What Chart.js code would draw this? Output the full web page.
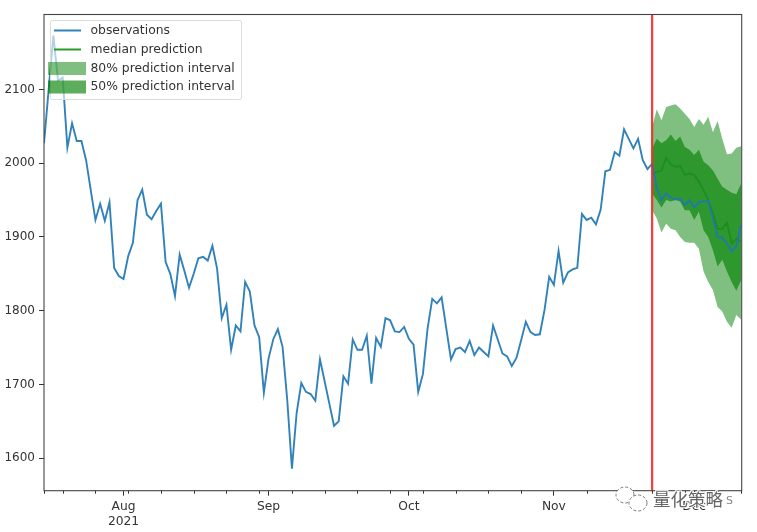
<!DOCTYPE html>
<html>
<head>
<meta charset="utf-8">
<script src="https://cdn.jsdelivr.net/npm/chart.js@4"></script>
<style>
  html, body { margin: 0; padding: 0; background: #fff; }
  #wrap { width: 757px; height: 532px; }
  canvas { filter: blur(0.55px); }
</style>
</head>
<body>
<div id="wrap"><canvas id="grafica" width="757" height="532"></canvas></div>
<script>
// ========== DATOS ===================
// x values are days since 15 Jul 2021
const observations = [
  2027, 2100, 2173, 2112, 2116, 2021, 2054, 2030, 2030, 2004,
  1963, 1923, 1945, 1922, 1947, 1858, 1847, 1843, 1874, 1892,
  1950, 1964, 1930, 1924, 1935, 1945, 1866, 1850, 1820, 1876,
  1854, 1831, 1850, 1871, 1873, 1868, 1888, 1857, 1790, 1808,
  1747, 1780, 1772, 1839, 1826, 1780, 1764, 1689, 1735, 1761,
  1775, 1751, 1679, 1586, 1661, 1702, 1690, 1687, 1678, 1734,
  1704, 1674, 1644, 1650, 1711, 1701, 1761, 1747, 1747, 1766,
  1701, 1763, 1751, 1790, 1787, 1772, 1771, 1778, 1762, 1754,
  1690, 1714, 1776, 1816, 1810, 1818, 1776, 1734, 1748, 1750,
  1744, 1759, 1740, 1750, 1744, 1738, 1780, 1761, 1742, 1738,
  1725, 1736, 1760, 1785, 1771, 1767, 1768, 1801, 1846, 1835,
  1881, 1838, 1852, 1856, 1858, 1931, 1923, 1926, 1917, 1937,
  1989, 1991, 2015, 2010, 2046, 2033, 2020, 2033, 2004, 1992,
  1999, 1966, 1950, 1959, 1953, 1951, 1952, 1943, 1950, 1940,
  1947, 1948, 1949, 1925, 1900, 1899, 1891, 1881, 1887, 1916
];
const predictionStart = 130;
const medianPrediction = [
  1986, 1988, 1990, 2007, 1998, 1995, 1996, 1984, 1986, 1984,
  1975, 1963, 1950, 1932, 1911, 1911, 1919, 1891, 1897, 1894
];
const upper50 = [
  2020, 2033, 2027, 2031, 2039, 2030, 2036, 2022, 2018, 2011,
  2018, 2002, 1997, 1990, 1979, 1968, 1964, 1960, 1958, 1972
];
const lower50 = [
  1959, 1950, 1940, 1950, 1948, 1950, 1948, 1936, 1936, 1923,
  1934, 1909, 1900, 1882, 1860, 1869, 1853, 1839, 1827, 1841
];
const upper80 = [
  2049, 2073, 2058, 2076, 2078, 2080, 2074, 2067, 2060, 2049,
  2060, 2052, 2063, 2042, 2057, 2033, 2012, 2013, 2021, 2023
];
const lower80 = [
  1936, 1925, 1906, 1918, 1911, 1909, 1900, 1893, 1892, 1892,
  1884, 1853, 1839, 1828, 1805, 1799, 1785, 1777, 1794, 1788
];
const yTicks = [1600, 1700, 1800, 1900, 2000, 2100];
const monthDays = [17, 48, 78, 109, 139];
const monthLabels = [["Aug", "2021"], "Sep", "Oct", "Nov", "Dec"];
const weekDays = [0, 4, 11, 18, 25, 32, 39, 46, 53, 60, 67, 74, 81, 88, 95, 102, 116, 123, 130, 137, 144, 149];
const legendNames = ["observations", "median prediction", "80% prediction interval", "50% prediction interval"];
const xMin = 0, xMax = 149.15, yMin = 1556, yMax = 2201.5;

const BLUE = "rgba(31,119,180,0.92)";
const GREEN_LINE = "#1b8f1b";
const GREEN_80 = "rgba(0,128,0,0.5)";
const GREEN_50 = "rgba(0,128,0,0.64)";
const INK = "#333";

// -------------- UTILS ----------------
function serie(vals, start){ return vals.map((v, i) => ({ x: start + i, y: v })); }
function zona(label, vals, color, order, fill){
  return { label, data: serie(vals, predictionStart), borderWidth: 0, pointRadius: 0,
           backgroundColor: color, fill: fill === undefined ? false : fill, order, tension: 0 };
}

// ========== PLUGINS =============
const marco = {
  id: "marco",
  afterDatasetsDraw(chart){
    const { ctx, chartArea: a, scales: { x } } = chart;
    ctx.save();
    // minor week ticks
    ctx.strokeStyle = INK;
    ctx.lineWidth = 1;
    weekDays.forEach(d => {
      const px = Math.round(x.getPixelForValue(d)) + 0.5;
      ctx.beginPath(); ctx.moveTo(px, a.bottom); ctx.lineTo(px, a.bottom + 3); ctx.stroke();
    });
    // spines
    ctx.strokeStyle = "#444";
    ctx.lineWidth = 1.1;
    ctx.strokeRect(a.left, a.top, a.right - a.left, a.bottom - a.top);
    ctx.restore();
  }
};

const leyenda = {
  id: "leyenda",
  afterDatasetsDraw(chart){
    const { ctx } = chart;
    ctx.save();
    ctx.fillStyle = "rgba(255,255,255,0.62)";
    ctx.strokeStyle = "#dcdcdc";
    ctx.lineWidth = 1;
    ctx.beginPath();
    ctx.roundRect(50.5, 20.5, 191, 79, 2);
    ctx.fill(); ctx.stroke();

    const filas = [30.5, 49.5, 68.5, 87];
    ctx.lineWidth = 2;
    ctx.strokeStyle = BLUE;
    ctx.beginPath(); ctx.moveTo(54, filas[0]); ctx.lineTo(81, filas[0]); ctx.stroke();
    ctx.strokeStyle = "#2a9a2a";
    ctx.beginPath(); ctx.moveTo(54, filas[1]); ctx.lineTo(81, filas[1]); ctx.stroke();
    ctx.fillStyle = GREEN_80;
    ctx.fillRect(48, filas[2] - 6.5, 38, 13);
    ctx.fillStyle = GREEN_50;
    ctx.fillRect(48, filas[3] - 6.5, 38, 13);

    ctx.fillStyle = INK;
    ctx.font = "12.35px 'DejaVu Sans'";
    ctx.textBaseline = "middle";
    legendNames.forEach((t, i) => ctx.fillText(t, 90.5, filas[i]));
    ctx.restore();
  }
};

// watermark sitting over the axis labels
const marcaAgua = {
  id: "marcaAgua",
  afterDraw(chart){
    const { ctx } = chart;
    ctx.save();
    ctx.strokeStyle = "#777";
    ctx.fillStyle = "#fff";
    ctx.lineWidth = 1;
    ctx.setLineDash([3, 2]);
    ctx.beginPath(); ctx.ellipse(625, 495, 9, 8, 0, 0, Math.PI * 2); ctx.fill(); ctx.stroke();
    ctx.beginPath(); ctx.ellipse(638, 503, 9, 8, 0, 0, Math.PI * 2); ctx.fill(); ctx.stroke();
    ctx.setLineDash([]);
    ctx.font = "17.5px 'Noto Sans CJK SC'";
    ctx.textBaseline = "middle";
    ctx.lineWidth = 2;
    ctx.strokeStyle = "#fff";
    ctx.strokeText("量化策略", 653, 499);
    ctx.fillStyle = "#666";
    ctx.fillText("量化策略", 653, 499);
    ctx.font = "11px 'DejaVu Sans'";
    ctx.fillStyle = "#888";
    ctx.fillText("S", 726, 501);
    ctx.restore();
  }
};

// ========== GRAFICA ==========
function graficar(){
  new Chart(document.getElementById("grafica"), {
    type: "line",
    data: {
      datasets: [
        { label: "prediction start", data: [{ x: predictionStart, y: yMin }, { x: predictionStart, y: yMax }],
          borderColor: "rgba(245,40,40,0.9)", borderWidth: 2.2, pointRadius: 0, order: 1 },
        { label: legendNames[0], data: serie(observations, 0), borderColor: BLUE, borderWidth: 1.9,
          pointRadius: 0, tension: 0, order: 2 },
        { label: legendNames[1], data: serie(medianPrediction, predictionStart), borderColor: GREEN_LINE,
          borderWidth: 1.8, pointRadius: 0, tension: 0, order: 3 },
        zona("50% upper", upper50, GREEN_50, 4, "+1"),
        zona("50% lower", lower50, GREEN_50, 5),
        zona("80% upper", upper80, GREEN_80, 6, "+1"),
        zona("80% lower", lower80, GREEN_80, 7)
      ]
    },
    options: {
      responsive: false,
      animation: false,
      events: [],
      layout: { padding: { top: 14.5, right: 15.3, bottom: 0, left: 0 } },
      plugins: { legend: { display: false }, tooltip: { enabled: false } },
      scales: {
        x: {
          type: "linear", min: xMin, max: xMax,
          afterBuildTicks: s => { s.ticks = monthDays.map(v => ({ value: v })); },
          afterFit: s => { s.height = 41.3; },
          grid: { drawOnChartArea: false, drawTicks: true, tickLength: 5, tickColor: INK },
          border: { display: false },
          ticks: {
            autoSkip: false, maxRotation: 0, color: INK, padding: 4,
            font: { family: "DejaVu Sans", size: 12.3 },
            callback: v => monthLabels[monthDays.indexOf(v)]
          }
        },
        y: {
          min: yMin, max: yMax,
          afterBuildTicks: s => { s.ticks = yTicks.map(v => ({ value: v })); },
          afterFit: s => { s.width = 44; },
          grid: { drawOnChartArea: false, drawTicks: true, tickLength: 5, tickColor: INK },
          border: { display: false },
          ticks: {
            color: INK, padding: 4,
            font: { family: "DejaVu Sans", size: 12 },
            callback: v => String(v)
          }
        }
      }
    },
    plugins: [marco, leyenda, marcaAgua]
  });
}

// ========== INICIO ==========
window.onload = graficar;
</script>
</body>
</html>
